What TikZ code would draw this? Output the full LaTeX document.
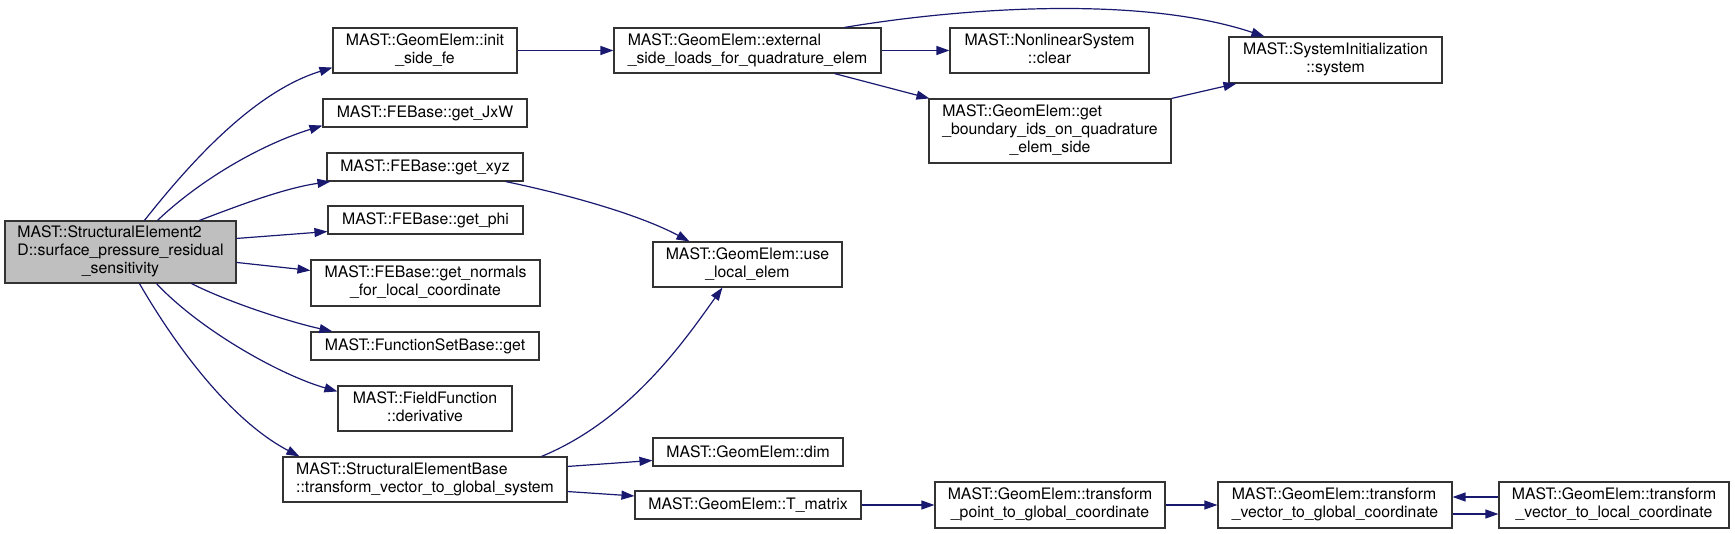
\documentclass[tikz,border=0pt]{standalone}
\usepackage{fontspec}
\setmainfont{TeX Gyre Heros}
\usetikzlibrary{arrows.meta,calc}
\definecolor{edgecol}{HTML}{191970}
\definecolor{maingray}{HTML}{BFBFBF}
\newcommand{\tbl}[2]{\begin{tabular}{@{}l@{}}#1\\\multicolumn{1}{@{}c@{}}{#2}\end{tabular}}
\tikzset{
  box/.style={draw=black!80, line width=1.1pt, fill=white, inner sep=0pt,
    font=\fontsize{15.8}{18}\selectfont, align=center},
  edge/.style={draw=edgecol, line width=1.2pt, -{Triangle[length=13pt,width=9pt]}},
}
\begin{document}
\begin{tikzpicture}[x=1pt,y=-1pt]
\useasboundingbox (0,0) rectangle (1735,534);
% nodes
\node[box, fill=maingray, minimum width=231pt, minimum height=62pt] (main) at (120.5,252)
  {\tbl{MAST::StructuralElement2\\D::surface\_pressure\_residual}{\_sensitivity}};
\node[box, minimum width=184pt, minimum height=45pt] (init) at (425,50.5)
  {\tbl{MAST::GeomElem::init}{\_side\_fe}};
\node[box, minimum width=267pt, minimum height=45pt] (ext) at (747.5,50.5)
  {\tbl{MAST::GeomElem::external}{\_side\_loads\_for\_quadrature\_elem}};
\node[box, minimum width=199pt, minimum height=45pt] (clear) at (1049.5,50.5)
  {\tbl{MAST::NonlinearSystem}{::clear}};
\node[box, minimum width=213pt, minimum height=46pt] (sys) at (1335.5,60)
  {\tbl{MAST::SystemInitialization}{::system}};
\node[box, minimum width=242pt, minimum height=64pt] (bnd) at (1050,131)
  {\tbl{MAST::GeomElem::get\\\_boundary\_ids\_on\_quadrature}{\_elem\_side}};
\node[box, minimum width=204pt, minimum height=28pt] (jxw) at (425,113)
  {MAST::FEBase::get\_JxW};
\node[box, minimum width=196pt, minimum height=28pt] (xyz) at (425,167)
  {MAST::FEBase::get\_xyz};
\node[box, minimum width=195pt, minimum height=28pt] (phi) at (425.5,220)
  {MAST::FEBase::get\_phi};
\node[box, minimum width=229pt, minimum height=46pt] (nrm) at (425.5,283)
  {\tbl{MAST::FEBase::get\_normals}{\_for\_local\_coordinate}};
\node[box, minimum width=228pt, minimum height=28pt] (fsb) at (425,346)
  {MAST::FunctionSetBase::get};
\node[box, minimum width=174pt, minimum height=45pt] (ff) at (425,408.5)
  {\tbl{MAST::FieldFunction}{::derivative}};
\node[box, minimum width=284pt, minimum height=45pt] (seb) at (425,479.5)
  {\tbl{MAST::StructuralElementBase}{::transform\_vector\_to\_global\_system}};
\node[box, minimum width=189pt, minimum height=45pt] (use) at (747.5,264.5)
  {\tbl{MAST::GeomElem::use}{\_local\_elem}};
\node[box, minimum width=190pt, minimum height=28pt] (dim) at (748,452)
  {MAST::GeomElem::dim};
\node[box, minimum width=226pt, minimum height=28pt] (tmat) at (748,505)
  {MAST::GeomElem::T\_matrix};
\node[box, minimum width=230pt, minimum height=46pt] (tpg) at (1050,505)
  {\tbl{MAST::GeomElem::transform}{\_point\_to\_global\_coordinate}};
\node[box, minimum width=234pt, minimum height=46pt] (tvg) at (1335,505)
  {\tbl{MAST::GeomElem::transform}{\_vector\_to\_global\_coordinate}};
\node[box, minimum width=230pt, minimum height=46pt] (tvl) at (1614,505)
  {\tbl{MAST::GeomElem::transform}{\_vector\_to\_local\_coordinate}};
% edges from main
\draw[edge] ($(main.north west)+(140,0)$) .. controls (200,150) and (260,90) .. ($(init.south west)+(0,-6)$);
\draw[edge] ($(main.north west)+(153,0)$) .. controls (200,180) and (260,145) .. ($(jxw.south west)+(0,-2)$);
\draw[edge] ($(main.north west)+(195,0)$) .. controls (240,205) and (285,188) .. ($(xyz.south west)+(4,0)$);
\draw[edge] ($(main.north east)+(0,18)$) -- ($(phi.south west)+(0,-3)$);
\draw[edge] ($(main.north east)+(0,42)$) -- ($(nrm.north west)+(0,11)$);
\draw[edge] ($(main.south west)+(187,0)$) .. controls (230,303) and (290,322) .. ($(fsb.north west)+(22,0)$);
\draw[edge] ($(main.south west)+(152,0)$) .. controls (200,330) and (280,375) .. ($(ff.north west)+(0,6)$);
\draw[edge] ($(main.south west)+(135,0)$) .. controls (175,345) and (230,420) .. ($(seb.north west)+(17,0)$);
% other edges
\draw[edge] (init.east) -- (ext.west);
\draw[edge] (ext.east) -- (clear.west);
\draw[edge] ($(ext.south west)+(221,0)$) -- ($(bnd.north west)+(1,0)$);
\draw[edge] ($(ext.north west)+(231,0)$) .. controls (960,8) and (1140,-5) .. ($(sys.north west)+(36,0)$);
\draw[edge] (bnd.north east) -- ($(sys.south west)+(8,0)$);
\draw[edge] ($(xyz.south east)+(-18,0)$) .. controls (570,195) and (640,215) .. ($(use.north west)+(37,0)$);
\draw[edge] ($(seb.north west)+(259,0)$) .. controls (630,420) and (685,340) .. ($(use.south west)+(70,0)$);
\draw[edge] ($(seb.north east)+(0,10)$) -- ($(dim.north west)+(0,23)$);
\draw[edge] ($(seb.south east)+(0,-11)$) -- ($(tmat.west)+(0,-9)$);
\draw[edge] (tmat.east) -- (tpg.west);
\draw[edge] (tpg.east) -- (tvg.west);
\draw[edge] ($(tvl.west)+(0,-8)$) -- ($(tvg.east)+(0,-8)$);
\draw[edge] ($(tvg.east)+(0,9)$) -- ($(tvl.west)+(0,9)$);
\end{tikzpicture}
\end{document}
